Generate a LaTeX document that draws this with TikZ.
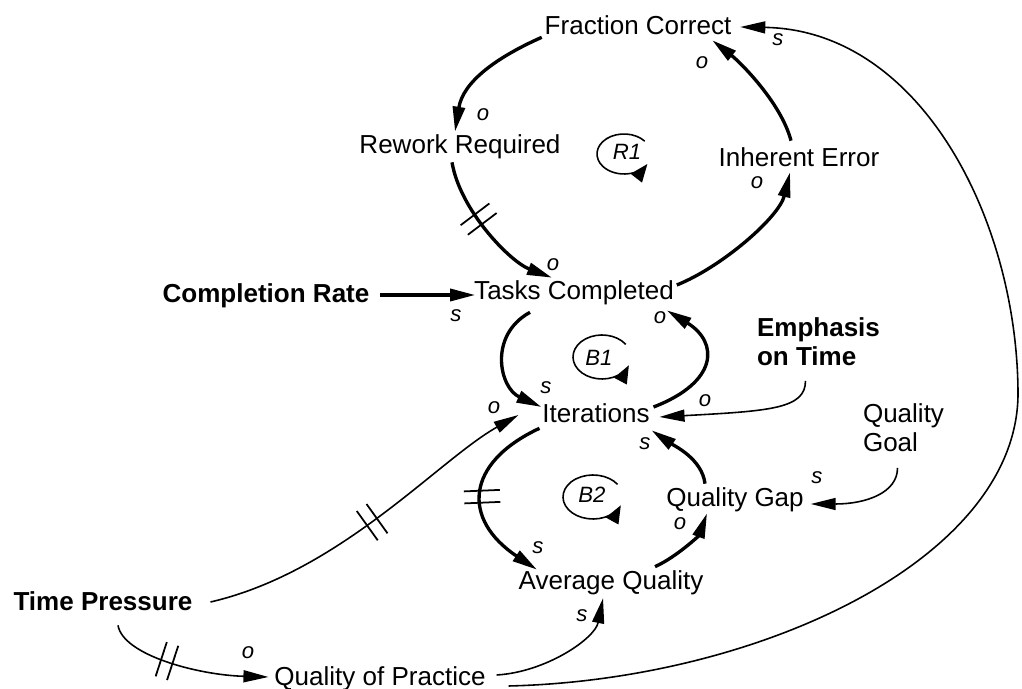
\documentclass[tikz,border=0pt]{standalone}
\usepackage{fontspec}
\setmainfont{Liberation Sans}
\usetikzlibrary{arrows.meta,decorations.markings}

\tikzset{
  var/.style={inner sep=0pt, outer sep=0pt, font=\fontsize{7.4}{8.2}\selectfont,
    text height=5.3pt, text depth=0pt},
  exo/.style={var, font=\fontsize{7.4}{8.2}\selectfont\bfseries},
  varmulti/.style={inner sep=0pt, outer sep=0pt, align=left, anchor=north west,
    font=\fontsize{7.4}{8.2}\selectfont},
  exomulti/.style={varmulti, font=\fontsize{7.4}{8.2}\selectfont\bfseries},
  pol/.style={inner sep=0pt, font=\fontsize{6.3}{7}\selectfont\itshape},
  looplabel/.style={inner sep=0pt, font=\fontsize{6.3}{7}\selectfont\itshape},
  link/.style={line width=0.95pt, -{Triangle[length=0.25cm,width=0.12cm]}},
  thinlink/.style={line width=0.45pt, -{Triangle[length=0.25cm,width=0.12cm]}},
  loopmark/.style={line width=0.45pt, -{Triangle[length=0.18cm,width=0.14cm]}},
  delay/.style={postaction={decorate, decoration={markings,
    mark=at position #1 with {\draw[line width=0.5pt,-]
      (-0.06cm,-0.18cm) -- (-0.06cm,0.18cm)
      (0.06cm,-0.18cm) -- (0.06cm,0.18cm);}}}},
}

\begin{document}
\begin{tikzpicture}[x=0.01cm, y=-0.01cm]
\path[use as bounding box] (0,0) rectangle (1022,689);

% variables
\node[var] (fc) at (638,25) {Fraction Correct};
\node[var] (rr) at (460,144) {Rework Required};
\node[var] (ie) at (799,157) {Inherent Error};
\node[var] (tc) at (574,290) {Tasks Completed};
\node[exo] (cr) at (266,293) {Completion Rate};
\node[exomulti] (et) at (757,318) {Emphasis\\on Time};
\node[var] (it) at (596,413) {Iterations};
\node[varmulti] (qgoal) at (863,404) {Quality\\Goal};
\node[var] (gap) at (735,497) {Quality Gap};
\node[var] (aq) at (611,580) {Average Quality};
\node[exo] (tp) at (103,601) {Time Pressure};
\node[var] (qp) at (380,676) {Quality of Practice};

% loop R1
\draw[link] ([shift={(-3,3)}]fc.south west) .. controls +(-45,20) and +(8,-50) .. ([shift={(-5,-3)}]rr.north);
\draw[link, delay=0.4] ([shift={(-8,9)}]rr.south) .. controls +(8,48) and +(-42,-16) .. ([shift={(-22,-3)}]tc.north);
\draw[link] ([shift={(3,-5)}]tc.east) .. controls +(45,-18) and +(-11,45) .. ([shift={(-9,6)}]ie.south);
\draw[link] ([shift={(-8,-7)}]ie.north) .. controls +(-10,-38) and +(28,22) .. ([shift={(-19,6)}]fc.south east);

% loop B1
\draw[link] ([shift={(11,2)}]cr.east) -- ([shift={(1,5)}]tc.west);
\draw[link] ([shift={(-44,13)}]tc.south) .. controls +(-42,23) and +(-42,-19) .. ([shift={(-1,-6)}]it.west);
\draw[link] ([shift={(4,-6)}]it.east) .. controls +(65,-25) and +(52,32) .. ([shift={(-7,11)}]tc.south east);
\draw[thinlink] ([shift={(-13,15)}]et.south) .. controls +(0,28) and +(110,-6) .. ([shift={(10,4)}]it.east);

% loop B2
\draw[link, delay=0.5] ([shift={(-3,6)}]it.south west) .. controls +(-75,35) and +(-75,-50) .. ([shift={(-74,-1)}]aq.north);
\draw[link] ([shift={(44,-4)}]aq.north) .. controls +(22,-10) and +(-8,22) .. ([shift={(-28,7)}]gap.south);
\draw[link] ([shift={(-30,-4)}]gap.north) .. controls +(-3,-25) and +(22,15) .. ([shift={(2,8)}]it.south east);
\draw[thinlink] ([shift={(-6,16)}]qgoal.south) .. controls +(0,25) and +(55,0) .. ([shift={(7,7)}]gap.east);

% time pressure and practice
\draw[thinlink, delay=0.5] ([shift={(18,1)}]tp.east) .. controls +(130,-30) and +(-80,45) .. ([shift={(-24,2)}]it.west);
\draw[thinlink, delay=0.38] ([shift={(15,15)}]tp.south) .. controls +(5,30) and +(-70,-2) .. ([shift={(-6,1)}]qp.west);
\draw[thinlink] ([shift={(11,-1)}]qp.east) .. controls +(50,-3) and +(-8,40) .. ([shift={(-8,9)}]aq.south);
\coordinate (bend) at (1018,395);
\draw[thinlink] ([shift={(23,10)}]qp.east) .. controls +(249,-6) and (1016,560) .. (bend)
  .. controls +(0,-175) and +(180,3) .. ([shift={(9,2)}]fc.east);

% loop markers
\draw[loopmark] (624,154) ++(-40:27 and 20) arc[start angle=-40, end angle=-330, x radius=27, y radius=20];
\node[looplabel] (r1) at (627,152) {R1};
\draw[loopmark] (602,357) ++(-35:29 and 22) arc[start angle=-35, end angle=-338, x radius=29, y radius=22];
\node[looplabel] (b1) at (599,358) {B1};
\draw[loopmark] (593,497) ++(-35:30 and 22) arc[start angle=-35, end angle=-338, x radius=30, y radius=22];
\node[looplabel] (b2) at (592,495) {B2};

% polarities
\node[pol] (p1) at (483,115) {o};
\node[pol] (p2) at (553,265) {o};
\node[pol] (p3) at (757,183) {o};
\node[pol] (p4) at (702,63) {o};
\node[pol] (p5) at (778,40) {s};
\node[pol] (p6) at (456,316) {s};
\node[pol] (p7) at (546,388) {s};
\node[pol] (p8) at (660,318) {o};
\node[pol] (p9) at (705,401) {o};
\node[pol] (p10) at (494,408) {o};
\node[pol] (p11) at (645,444) {s};
\node[pol] (p12) at (538,548) {s};
\node[pol] (p13) at (680,524) {o};
\node[pol] (p14) at (817,478) {s};
\node[pol] (p15) at (582,616) {s};
\node[pol] (p16) at (248,653) {o};
\end{tikzpicture}
\end{document}
